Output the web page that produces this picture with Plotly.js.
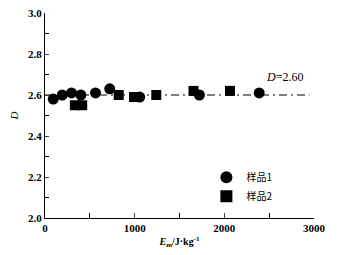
<!DOCTYPE html>
<html><head><meta charset="utf-8">
<script src="https://cdn.plot.ly/plotly-3.0.1.min.js"></script>
<style>body{margin:0;padding:0;background:#fff}#c{width:345px;height:255px}</style>
</head><body><div id="c"></div>
<script>
const s1x = [92, 192, 296, 400, 563, 722, 1056, 1722, 2389];
const s1y = [2.58, 2.60, 2.61, 2.60, 2.61, 2.63, 2.59, 2.60, 2.61];
const s2x = [333, 415, 822, 993, 1241, 1656, 2063];
const s2y = [2.55, 2.55, 2.60, 2.59, 2.60, 2.62, 2.62];
const fitX = [0, 2950];
const fitD = 2.60;
const names = ['样品1', '样品2'];

const serif = 'Liberation Serif, Times New Roman, serif';
const traces = [
  {x: fitX, y: fitX.map(() => fitD), mode: 'lines', showlegend: false,
   line: {color: '#000', width: 1.2, dash: '8px,4px,2px,4px'}, hoverinfo: 'skip'},
  {x: s1x, y: s1y, mode: 'markers', name: names[0],
   marker: {symbol: 'circle', size: 11, color: '#000'}},
  {x: s2x, y: s2y, mode: 'markers', name: names[1],
   marker: {symbol: 'square', size: 10, color: '#000'}}
];
const layout = {
  width: 345, height: 255,
  margin: {l: 45, r: 31, t: 13, b: 37},
  paper_bgcolor: '#fff', plot_bgcolor: '#fff',
  showlegend: true,
  legend: {x: 0.6, y: 0.27, xanchor: 'left', yanchor: 'top', bgcolor: 'rgba(0,0,0,0)',
           font: {family: 'Noto Sans CJK SC', size: 10, color: '#000'},
           itemwidth: 20, tracegroupgap: 0, itemsizing: 'constant'},
  xaxis: {range: [0, 3000], dtick: 1000, ticks: 'inside', ticklen: 5, tickwidth: 1,
          showline: true, linecolor: '#000', linewidth: 1, showgrid: false, zeroline: false,
          minor: {dtick: 500, ticks: 'inside', ticklen: 5, tickcolor: '#000'},
          tickfont: {family: serif, size: 11, color: '#000', weight: 'bold'},
          title: {text: '<i>E</i><sub>m</sub>/J·kg<sup>-1</sup>', standoff: 4,
                  font: {family: serif, size: 10, color: '#000', weight: 'bold'}}},
  yaxis: {range: [2.0, 3.0], dtick: 0.2, tickformat: '.1f', ticks: 'inside', ticklen: 4, tickwidth: 1,
          showline: true, linecolor: '#000', linewidth: 1, showgrid: false, zeroline: false,
          minor: {dtick: 0.1, ticks: 'inside', ticklen: 4, tickcolor: '#000'},
          tickfont: {family: serif, size: 11, color: '#000', weight: 'bold'},
          title: {text: '<i>D</i>', standoff: 7, font: {family: serif, size: 11, color: '#000'}}},
  annotations: [{x: 2667, y: 2.688, xref: 'x', yref: 'y', showarrow: false,
                 text: '<i>D</i>=2.60', font: {family: serif, size: 12, color: '#000'}}]
};
Plotly.newPlot('c', traces, layout, {displayModeBar: false, staticPlot: true});
</script></body></html>
